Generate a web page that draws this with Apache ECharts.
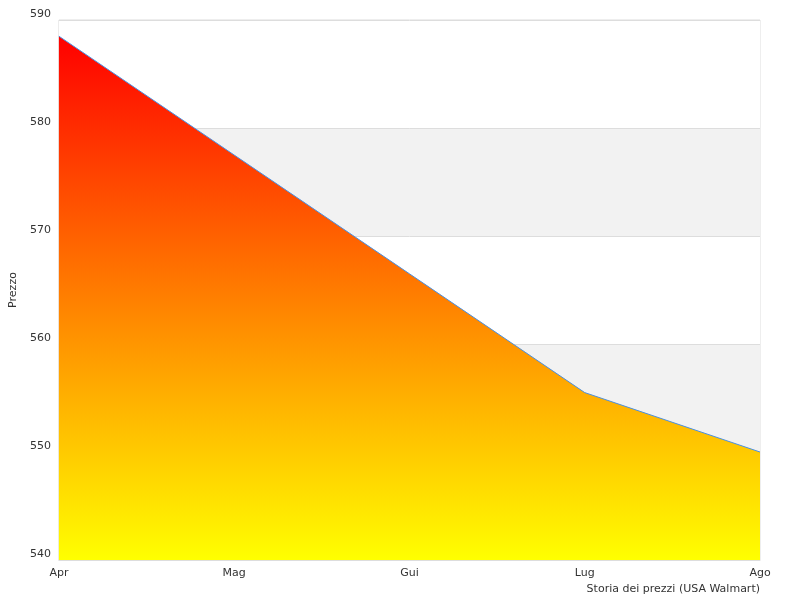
<!DOCTYPE html>
<html><head><meta charset="utf-8">
<script src="https://cdn.jsdelivr.net/npm/echarts@6/dist/echarts.min.js"></script>
<style>html,body{margin:0;padding:0;background:#fff}#c{width:800px;height:600px}</style>
</head><body><div id="c"></div>
<script>
const categories = ['Apr','Mag','Gui','Lug','Ago'];
const prices = [588.5, 577.5, 566.5, 555.5, 550];
const chart = echarts.init(document.getElementById('c'));
chart.setOption({
  animation:false,
  grid:{left:40,right:40,top:20,bottom:40,show:true,borderColor:'#ddd',borderWidth:1},
  xAxis:{type:'category',data:categories,boundaryGap:false,
    name:'Storia dei prezzi (USA Walmart)',nameLocation:'end',nameGap:0,
    nameTextStyle:{fontFamily:'DejaVu Sans',fontSize:11,color:'#333',align:'right',verticalAlign:'top',padding:[24,0,0,0]},
    axisLine:{lineStyle:{color:'#ddd'}},axisTick:{show:false},
    axisLabel:{fontFamily:'DejaVu Sans',fontSize:11,color:'#333',margin:8}},
  yAxis:{type:'value',min:540,max:590,interval:10,
    name:'Prezzo',nameLocation:'middle',nameGap:28,nameRotate:90,
    nameTextStyle:{fontFamily:'DejaVu Sans',fontSize:11,color:'#333'},
    axisLine:{show:false},axisTick:{show:false},
    axisLabel:{fontFamily:'DejaVu Sans',fontSize:11,color:'#333',margin:8,verticalAlign:'bottom'},
    splitLine:{show:true,lineStyle:{color:'#ddd'}},
    splitArea:{show:true,areaStyle:{color:['#ffffff','#f2f2f2']}}},
  series:[{type:'line',data:prices,symbol:'none',
    lineStyle:{color:'#4a90e2',width:1},
    areaStyle:{opacity:1,origin:'start',color:new echarts.graphic.LinearGradient(0,0,0,1,[{offset:0,color:'#ff0000'},{offset:1,color:'#ffff00'}])}}]
});
</script></body></html>
